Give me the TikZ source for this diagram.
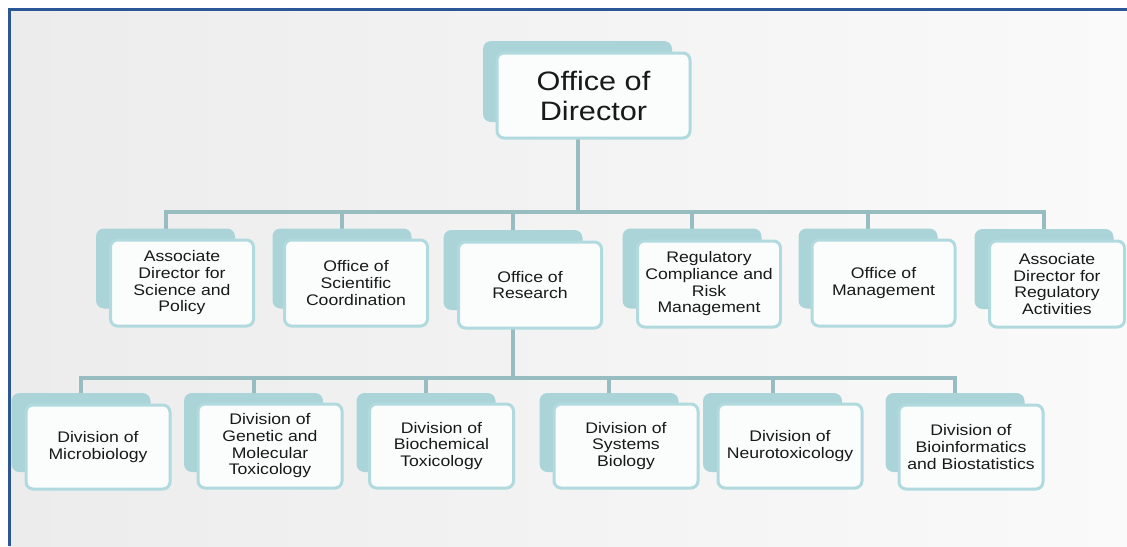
\documentclass[tikz,border=0pt]{standalone}
\usepackage{fontspec}
\setmainfont{Liberation Sans}[FakeStretch=1.15]
\usetikzlibrary{calc}
\newlength\pxu \setlength\pxu{0.75pt}
\definecolor{linec}{RGB}{152,189,192}
\definecolor{backc}{RGB}{170,212,216}
\definecolor{framec}{RGB}{176,218,222}
\definecolor{boxc}{RGB}{251,253,253}
\definecolor{borderblue}{RGB}{44,86,150}
\definecolor{txt}{RGB}{25,25,25}
\definecolor{bgleft}{RGB}{236,236,236}
\definecolor{bgright}{RGB}{250,250,250}
\pgfdeclarelayer{bgl}
\pgfdeclarelayer{lines}
\pgfsetlayers{bgl,lines,main}
\tikzset{
  backbox/.style={fill=backc, rounded corners=8\pxu, inner sep=0pt, minimum width=139\pxu, minimum height=80\pxu},
  frontbox/.style={fill=boxc, draw=framec, line width=3\pxu, rounded corners=7\pxu, inner sep=0pt,
    minimum width=143\pxu, minimum height=86\pxu, align=center, text=txt,
    font=\fontsize{11.5pt}{12.5pt}\selectfont},
  lowback/.style={backbox, minimum height=79\pxu},
  lowfront/.style={frontbox, minimum width=144\pxu, minimum height=84\pxu},
  conn/.style={draw=linec, line width=4\pxu}
}
\begin{document}
\begin{tikzpicture}[x=0.75pt,y=-0.75pt]
\useasboundingbox (0,0) rectangle (1127,546);
\begin{pgfonlayer}{bgl}
  \fill[white] (0,0) rectangle (1127,546);
  \shade[left color=bgleft, right color=bgright] (9,9) rectangle (1127,546);
  \draw[borderblue, line width=3\pxu] (9,546) -- (9,9) -- (1127,9);
\end{pgfonlayer}

% top
\node[backbox, minimum width=189\pxu, minimum height=81\pxu] (b0) at (577.5,81.5) {};
\node[frontbox, minimum width=193\pxu, minimum height=85\pxu, font=\fontsize{20pt}{22.5pt}\selectfont] (f0) at (593.5,95.5) {Office of\\Director};

% middle row
\node[backbox] (bm1) at (165.5,268.5) {};
\node[frontbox] (fm1) at (182,283) {Associate\\Director for\\Science and\\Policy};
\node[backbox] (bm2) at (342,268.5) {};
\node[frontbox] (fm2) at (356,283) {Office of\\Scientific\\Coordination};
\node[backbox] (bm3) at (513,270) {};
\node[frontbox] (fm3) at (530,285) {Office of\\Research};
\node[backbox] (bm4) at (692,268.5) {};
\node[frontbox] (fm4) at (709,284) {Regulatory\\Compliance and\\Risk\\Management};
\node[backbox] (bm5) at (868,268.5) {};
\node[frontbox] (fm5) at (883.5,283) {Office of\\Management};
\node[backbox] (bm6) at (1044,269) {};
\node[frontbox, minimum width=135\pxu] (fm6) at (1057,284) {Associate\\Director for\\Regulatory\\Activities};

% bottom row
\node[lowback] (bl1) at (81,432.5) {};
\node[lowfront] (fl1) at (98,447) {Division of\\Microbiology};
\node[lowback] (bl2) at (253.5,432.5) {};
\node[lowfront] (fl2) at (270,446) {Division of\\Genetic and\\Molecular\\Toxicology};
\node[lowback] (bl3) at (426,432.5) {};
\node[lowfront] (fl3) at (441.5,446) {Division of\\Biochemical\\Toxicology};
\node[lowback] (bl4) at (609,432.5) {};
\node[lowfront] (fl4) at (626,446) {Division of\\Systems\\Biology};
\node[lowback] (bl5) at (772.5,432.5) {};
\node[lowfront] (fl5) at (790,446) {Division of\\Neurotoxicology};
\node[lowback] (bl6) at (955,432.5) {};
\node[lowfront] (fl6) at (971,447) {Division of\\Bioinformatics\\and Biostatistics};

\coordinate (j0) at (577.5,212);
\coordinate (j1) at (513,378);

\begin{pgfonlayer}{lines}
  \draw[conn] (b0.center) -- (j0);
  \foreach \n in {bm1,bm2,bm3,bm4,bm5,bm6}
    \draw[conn] (j0) -| (\n.center);
  \draw[conn] (bm3.center) -- (j1);
  \foreach \n in {bl1,bl2,bl3,bl4,bl5,bl6}
    \draw[conn] (j1) -| (\n.center);
\end{pgfonlayer}
\end{tikzpicture}
\end{document}
